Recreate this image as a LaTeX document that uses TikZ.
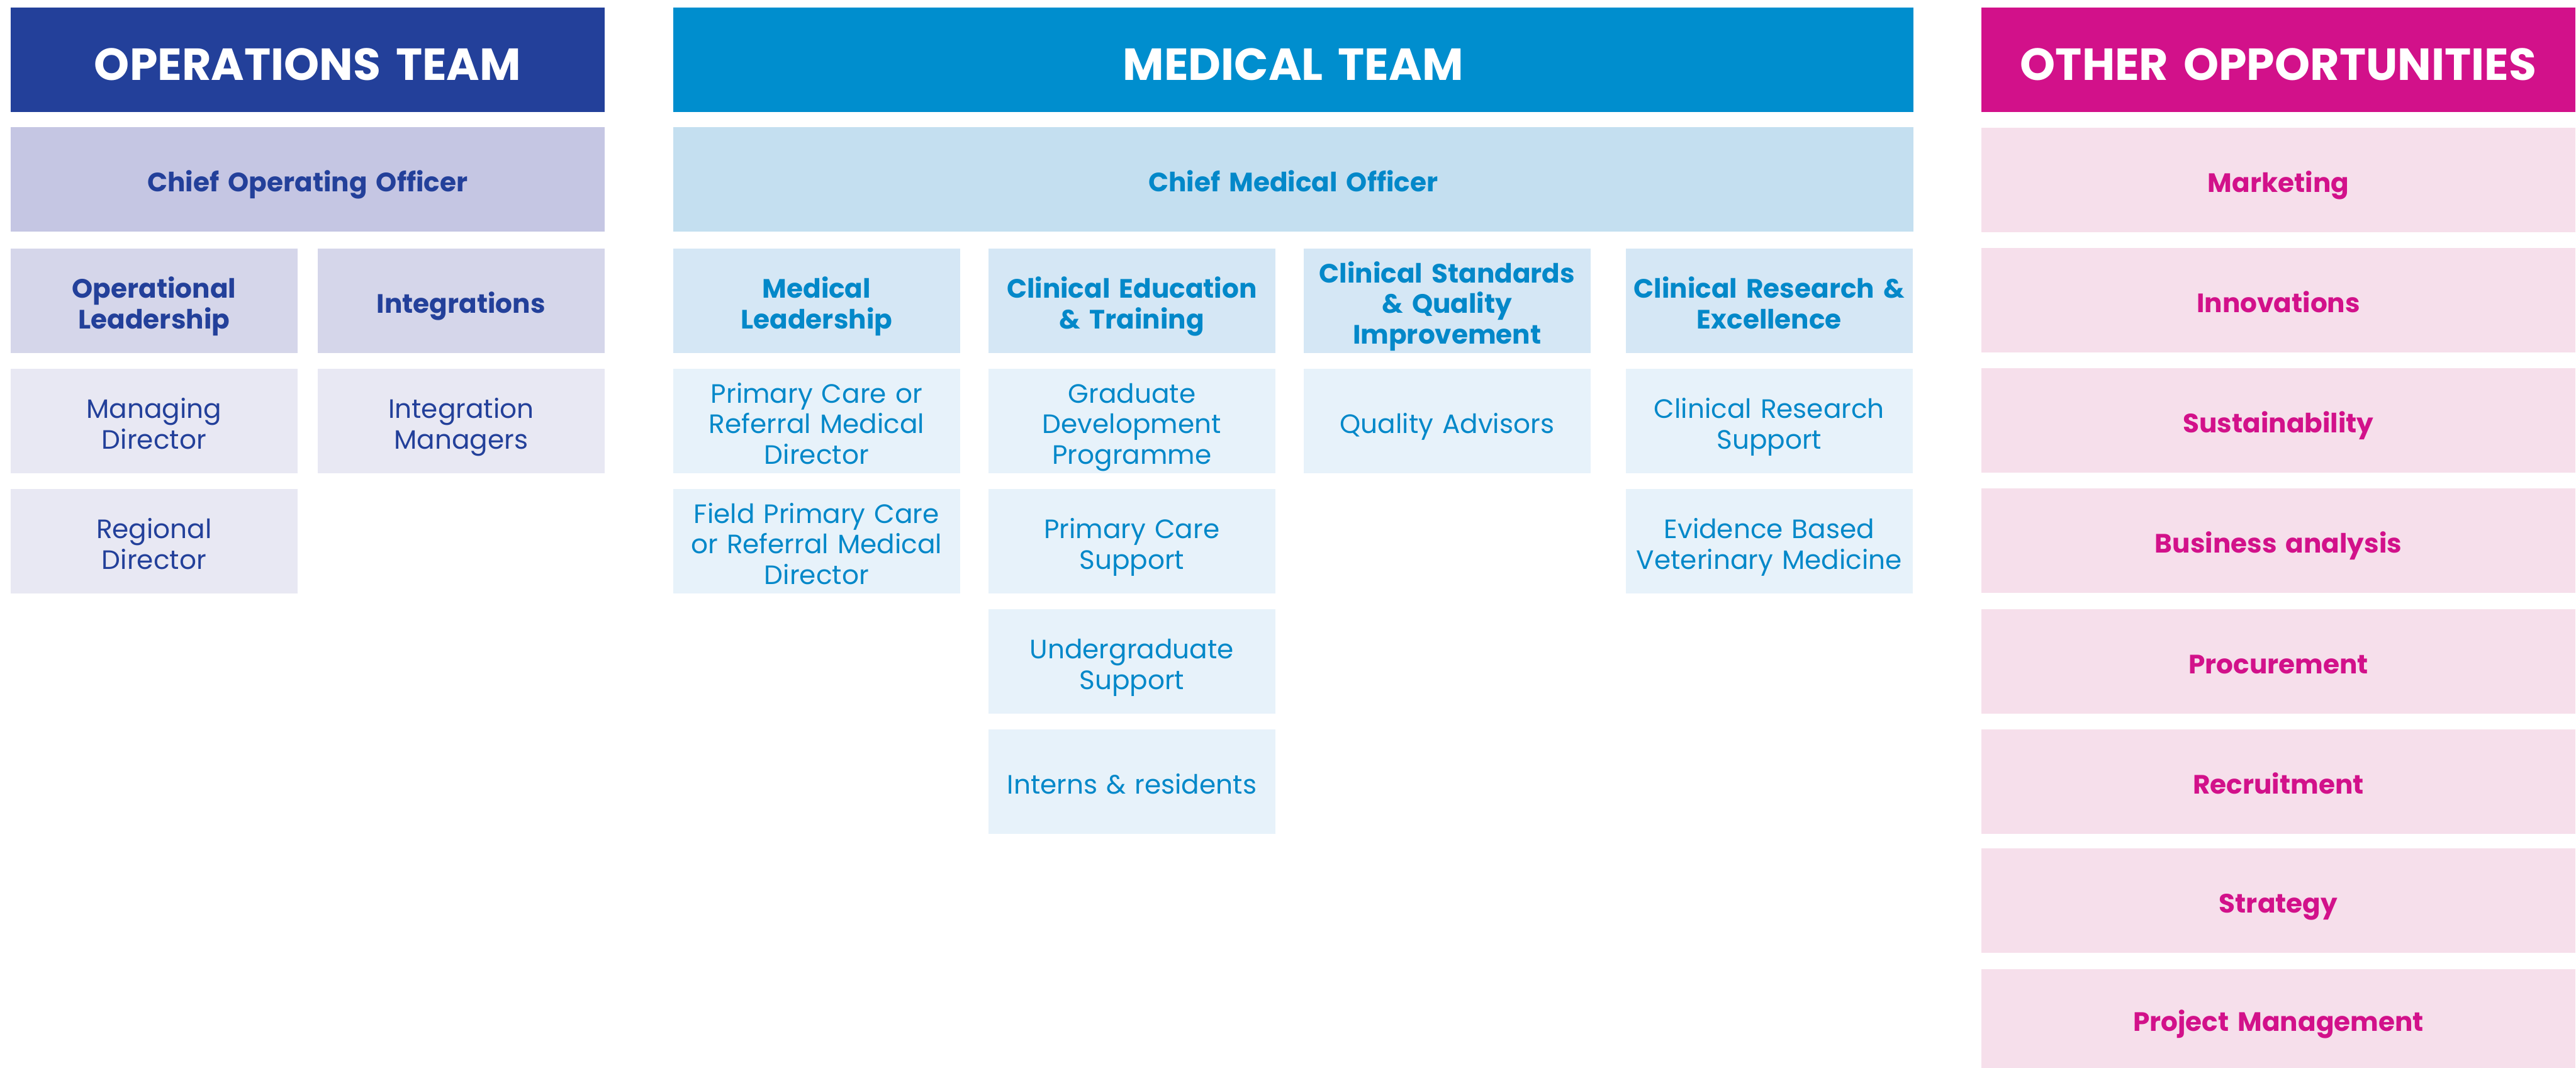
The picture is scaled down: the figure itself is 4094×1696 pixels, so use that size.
\documentclass[tikz,border=0pt]{standalone}
\usepackage{fontspec}
\setmainfont{Poppins}
\definecolor{opsdark}{HTML}{23409A}
\definecolor{opschief}{HTML}{C5C6E3}
\definecolor{opssub}{HTML}{D5D6EA}
\definecolor{opsrole}{HTML}{E8E8F3}
\definecolor{meddark}{HTML}{008ECE}
\definecolor{medchief}{HTML}{C4DFF0}
\definecolor{medsub}{HTML}{D5E7F5}
\definecolor{medrole}{HTML}{E7F2FA}
\definecolor{medtext}{HTML}{0388C9}
\definecolor{othdark}{HTML}{D2118A}
\definecolor{othbox}{HTML}{F6DFEB}
\begin{document}
\begin{tikzpicture}[x=0.01cm,y=-0.01cm]
        \tikzstyle{box}=[rectangle,anchor=north west,inner sep=0pt,align=center,minimum height=1.66cm]
        \tikzstyle{wide}=[box,minimum width=9.44cm,text width=9.2cm]
        \tikzstyle{full}=[box,minimum width=19.70cm,text width=19cm]
        \tikzstyle{narrow}=[box,minimum width=4.56cm,text width=4.5cm]
        \tikzstyle{head}=[font=\fontsize{20.3}{24}\selectfont\bfseries,text=white,
          execute at begin node={\rule{0pt}{24.8pt}},execute at end node={\rule[-6pt]{0pt}{6pt}}]
        \tikzstyle{chief}=[font=\fontsize{12}{13.7}\selectfont\bfseries,
          execute at begin node={\rule{0pt}{15.5pt}},execute at end node={\rule[-4pt]{0pt}{4pt}}]
        \tikzstyle{role}=[font=\fontsize{12}{13.7}\selectfont,
          execute at begin node={\rule{0pt}{15.5pt}},execute at end node={\rule[-4pt]{0pt}{4pt}}]
        \useasboundingbox (0,0) rectangle (4094,1696);
       % operations team
         \node [wide,head,fill=opsdark] (opshead) at (16,11) {OPERATIONS TEAM};
         \node [wide,chief,fill=opschief,text=opsdark] (coo) at (16,201) {Chief Operating Officer};
         \node [narrow,chief,fill=opssub,text=opsdark] (oplead) at (16,394) {Operational\\Leadership};
         \node [narrow,chief,fill=opssub,text=opsdark] (integ) at (504,394) {Integrations};
         \node [narrow,role,fill=opsrole,text=opsdark] (mandir) at (16,585) {Managing\\Director};
         \node [narrow,role,fill=opsrole,text=opsdark] (intman) at (504,585) {Integration\\Managers};
         \node [narrow,role,fill=opsrole,text=opsdark] (regdir) at (16,776) {Regional\\Director};
       % medical team
         \node [full,head,fill=meddark] (medhead) at (1069,11) {MEDICAL TEAM};
         \node [full,chief,fill=medchief,text=medtext] (cmo) at (1069,201) {Chief Medical Officer};
         \node [narrow,chief,fill=medsub,text=medtext] (medlead) at (1069,394) {Medical\\Leadership};
         \node [narrow,chief,fill=medsub,text=medtext] (clined) at (1570,394) {Clinical Education\\\& Training};
         \node [narrow,chief,fill=medsub,text=medtext] (clinstd) at (2071,394) {Clinical Standards\\\& Quality\\Improvement};
         \node [narrow,chief,fill=medsub,text=medtext] (clinres) at (2583,394) {Clinical Research \&\\Excellence};
         \node [narrow,role,fill=medrole,text=medtext] (pcdir) at (1069,585) {Primary Care or\\Referral Medical\\Director};
         \node [narrow,role,fill=medrole,text=medtext] (gradprog) at (1570,585) {Graduate\\Development\\Programme};
         \node [narrow,role,fill=medrole,text=medtext] (qualadv) at (2071,585) {Quality Advisors};
         \node [narrow,role,fill=medrole,text=medtext] (ressupp) at (2583,585) {Clinical Research\\Support};
         \node [narrow,role,fill=medrole,text=medtext] (fieldpc) at (1069,776) {Field Primary Care\\or Referral Medical\\Director};
         \node [narrow,role,fill=medrole,text=medtext] (pcsupp) at (1570,776) {Primary Care\\Support};
         \node [narrow,role,fill=medrole,text=medtext] (ebvm) at (2583,776) {Evidence Based\\Veterinary Medicine};
         \node [narrow,role,fill=medrole,text=medtext] (ugsupp) at (1570,967) {Undergraduate\\Support};
         \node [narrow,role,fill=medrole,text=medtext] (interns) at (1570,1158) {Interns \& residents};
       % other opportunities
         \node [wide,head,fill=othdark] (othhead) at (3148,11) {OTHER OPPORTUNITIES};
         \node [wide,chief,fill=othbox,text=othdark] (market) at (3148,202) {Marketing};
         \node [wide,chief,fill=othbox,text=othdark] (innov) at (3148,393) {Innovations};
         \node [wide,chief,fill=othbox,text=othdark] (sustain) at (3148,584) {Sustainability};
         \node [wide,chief,fill=othbox,text=othdark] (busan) at (3148,775) {Business analysis};
         \node [wide,chief,fill=othbox,text=othdark] (procure) at (3148,967) {Procurement};
         \node [wide,chief,fill=othbox,text=othdark] (recruit) at (3148,1158) {Recruitment};
         \node [wide,chief,fill=othbox,text=othdark] (strat) at (3148,1347) {Strategy};
         \node [wide,chief,fill=othbox,text=othdark,minimum height=1.57cm] (projman) at (3148,1539) {Project Management};
\end{tikzpicture}
\end{document}
